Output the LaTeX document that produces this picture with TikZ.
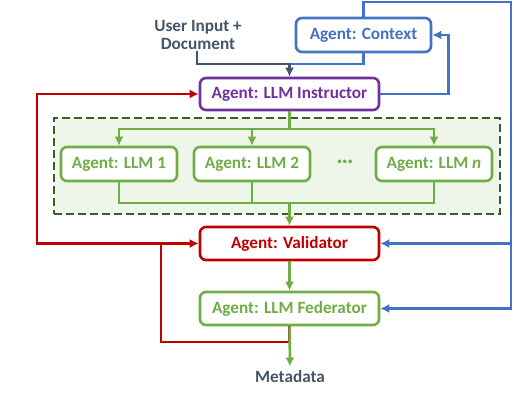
\documentclass[tikz,border=0pt]{standalone}
\usepackage{fontspec}
\setmainfont{Carlito}
\usetikzlibrary{arrows}
\usetikzlibrary{arrows.meta}
\definecolor{blueC}{HTML}{4472C4}
\definecolor{purpleC}{HTML}{7030A0}
\definecolor{redC}{HTML}{C00000}
\definecolor{greenC}{HTML}{70AD47}
\definecolor{darkG}{HTML}{3B5E27}
\definecolor{lightG}{HTML}{EEF5E9}
\definecolor{slateC}{HTML}{44546A}
\newcommand{\agentfont}{\bfseries\fontsize{8.6}{9.5}\selectfont}

\begin{document}
\begin{tikzpicture}[x=0.5pt,y=-0.5pt]
\tikzstyle{agent}=[rounded corners=3pt, line width=1.3pt, fill=white, font=\agentfont, inner sep=0pt]
\tikzstyle{wire}=[line width=1.3pt]
\tikzstyle{tip}=[arrows={-{Latex[length=4.5pt,width=4.5pt]}}]
\useasboundingbox (0,0) rectangle (514,416);
% group of LLM agents
\node[draw=darkG, dashed, dash pattern=on 4pt off 2pt, fill=lightG, line width=1.3pt, minimum width=223pt, minimum height=48pt, inner sep=0pt] (pool) at (277,166) {};
\node[font=\agentfont, text=slateC, align=center] (input) at (198,35) {User Input +\\[-0.5pt]Document};
\node[agent, draw=blueC, text=blueC, minimum width=67.5pt, minimum height=17pt] (ctx) at (363.5,35) {Agent: Context};
\node[agent, draw=purpleC, text=purpleC, minimum width=89.5pt, minimum height=16pt] (instr) at (289.5,94) {Agent: LLM Instructor};
\node[agent, draw=greenC, text=greenC, minimum width=58pt, minimum height=17pt] (llm1) at (119,164) {Agent: LLM 1};
\node[agent, draw=greenC, text=greenC, minimum width=58pt, minimum height=17pt] (llm2) at (252,164) {Agent: LLM 2};
\node[font=\bfseries\fontsize{12}{12}\selectfont, text=greenC] (dots) at (345,162) {…};
\node[agent, draw=greenC, text=greenC, minimum width=58pt, minimum height=17pt] (llmn) at (434,164) {Agent: LLM \textit{n}};
\node[agent, draw=redC, text=redC, minimum width=89.5pt, minimum height=16.5pt] (val) at (289.5,243.5) {Agent: Validator};
\node[agent, draw=greenC, text=greenC, minimum width=89.5pt, minimum height=16.5pt] (fed) at (289.5,308.5) {Agent: LLM Federator};
\node[font=\agentfont, text=slateC, inner sep=2pt] (meta) at (290,377) {Metadata};
\coordinate (join) at (289.5,64);
\coordinate (fan) at (289.5,129);
\coordinate (gather) at (289.5,203);
\coordinate (rtop) at (511,2);
\coordinate (rval) at (511,243.5);
\coordinate (loop) at (161,342);
\coordinate (lval) at (161,243.5);
\coordinate (lfar) at (37,243.5);
% input and context into the instructor
\draw[wire, slateC] (input.south) ++(-1,-6) |- (join);
\draw[wire, blueC] (ctx.south) |- (join);
\draw[wire, slateC, tip] (join) -- (instr.north);
\draw[wire, blueC, tip] (instr.east) -- ++(68,0) |- (ctx.east);
\draw[wire, blueC, tip] (ctx.north) |- (rtop) |- (fed.east);
\draw[wire, blueC, tip] (rval) -- (val.east);
% feedback loops
\draw[wire, redC, tip] (fed.south) |- (loop) |- (val.west);
\draw[wire, redC, tip] (lval) -- (lfar) |- (instr.west);
% fan out and gather
\draw[wire, greenC] (instr.south) -- (fan);
\foreach \n in {llm1,llm2,llmn}{
  \draw[line width=1.1pt, greenC, tip] (fan) -| (\n.north);
  \draw[line width=1.1pt, greenC] (\n.south) |- (gather);
}
\draw[wire, greenC, tip] (gather) -- (val.north);
\draw[wire, greenC, tip] (val) -- (fed);
\draw[wire, greenC, tip] (fed) -- (meta);
\end{tikzpicture}
\end{document}
